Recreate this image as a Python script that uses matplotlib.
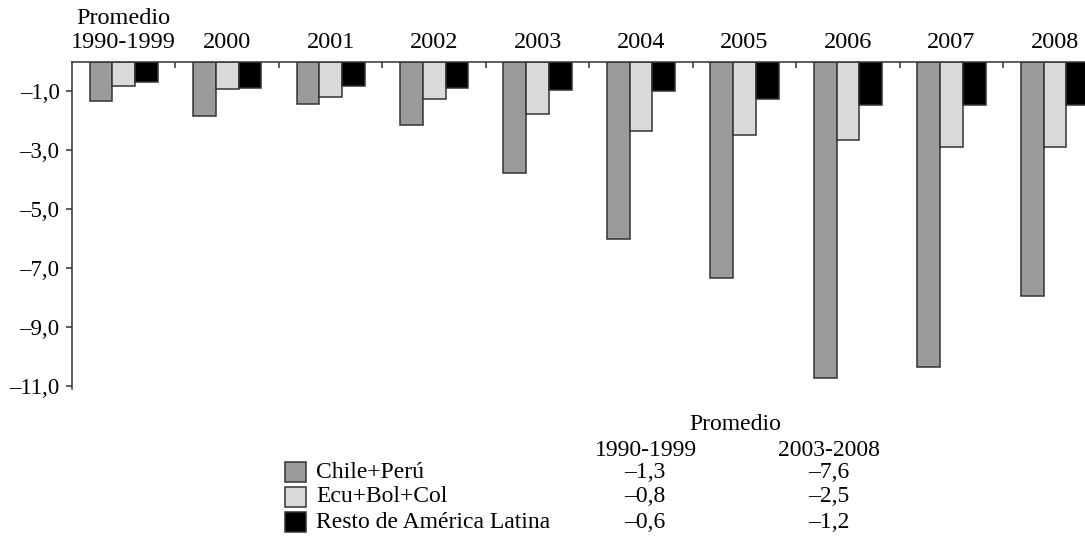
import numpy as np
import matplotlib.pyplot as plt
from matplotlib.patches import Rectangle

plt.rcParams['font.family'] = ['Liberation Serif', 'DejaVu Serif']

# Categories along the top
categories = ['Promedio\n1990-1999', '2000', '2001', '2002', '2003', '2004',
              '2005', '2006', '2007', '2008']

# Series values
chile_peru = [-1.34, -1.85, -1.45, -2.15, -3.77, -6.02, -7.34, -10.74, -10.34, -7.95]
ecu_bol_col = [-0.84, -0.94, -1.21, -1.28, -1.77, -2.35, -2.50, -2.66, -2.89, -2.89]
resto_al = [-0.68, -0.89, -0.84, -0.89, -0.97, -1.00, -1.27, -1.47, -1.47, -1.47]

series_names = ['Chile+Perú', 'Ecu+Bol+Col', 'Resto de América Latina']
avg_9099 = ['–1,3', '–0,8', '–0,6']
avg_0308 = ['–7,6', '–2,5', '–1,2']

y_ticks = [-1, -3, -5, -7, -9, -11]

colors = ['#9b9b9b', '#dadada', '#000000']
edge = '#333333'

W, H = 1085, 537
fig = plt.figure(figsize=(W / 100, H / 100), dpi=100)
# axes placed in pixel terms
ax = fig.add_axes([72 / W, 1 - 389 / H, 1 - 72 / W, (389 - 61.5) / H])

x = np.arange(len(categories))
bw = 0.22
for i, (vals, c) in enumerate(zip([chile_peru, ecu_bol_col, resto_al], colors)):
    ax.bar(x + (i - 1) * bw, vals, width=bw, color=c, edgecolor=edge, linewidth=1.1, zorder=2)

ax.set_xlim(-0.5, 9.29)
ax.set_ylim(-11.1, 0)

# top axis with categories
ax.xaxis.tick_top()
ax.set_xticks(x)
ax.set_xticklabels(categories, fontsize=17.5, linespacing=1.2)
ax.set_xticks(x[:-1] + 0.5, minor=True)
ax.tick_params(axis='x', which='major', length=0, pad=6)
ax.tick_params(axis='x', which='minor', direction='in', length=4, width=1.1, color=edge)

ax.set_yticks(y_ticks)
ax.set_yticklabels([('–%.1f' % abs(v)).replace('.', ',') for v in y_ticks], fontsize=16.5)
ax.tick_params(axis='y', direction='out', length=4, width=1.1, color=edge, pad=5)

for s in ['right', 'bottom']:
    ax.spines[s].set_visible(False)
for s in ['top', 'left']:
    ax.spines[s].set_linewidth(1.1)
    ax.spines[s].set_color(edge)


def fx(px):
    return px / W


def fy(py):
    return 1 - py / H


# legend / summary table under the chart
fs = 17
fig.text(fx(735), fy(425), 'Promedio', ha='center', va='center', fontsize=fs)
fig.text(fx(646), fy(450), '1990-1999', ha='center', va='center', fontsize=fs)
fig.text(fx(829), fy(450), '2003-2008', ha='center', va='center', fontsize=fs)
row_y = [472, 497, 522]
for name, a, b, c, ry in zip(series_names, avg_9099, avg_0308, colors, row_y):
    fig.add_artist(Rectangle((fx(285), fy(ry + 10)), 21 / W, 20 / H, transform=fig.transFigure,
                             facecolor=c, edgecolor=edge, linewidth=1.1))
    fig.text(fx(316), fy(ry), name, ha='left', va='center', fontsize=fs)
    fig.text(fx(645), fy(ry), a, ha='center', va='center', fontsize=fs)
    fig.text(fx(829), fy(ry), b, ha='center', va='center', fontsize=fs)

fig.savefig('out.png', dpi=100)
